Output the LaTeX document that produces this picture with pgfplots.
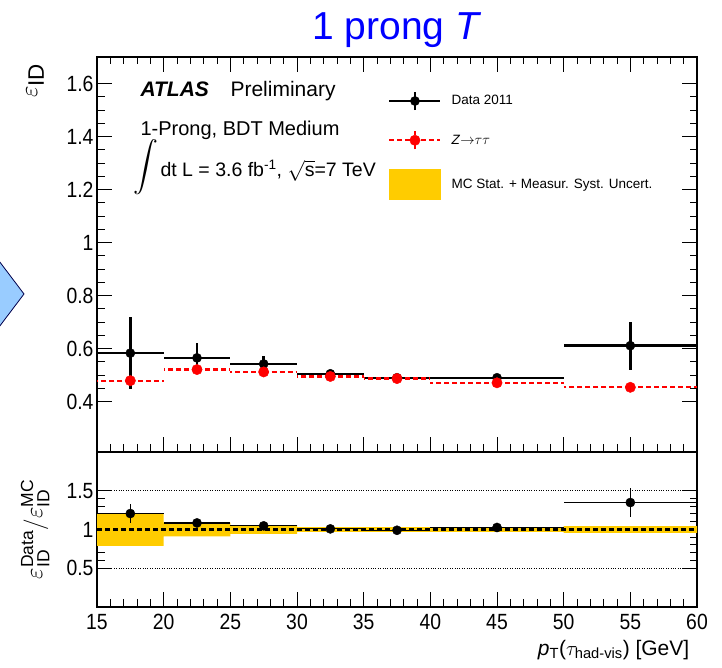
\documentclass[border=0pt]{standalone}
\usepackage{fontspec}
\setmainfont{Liberation Sans}
\setsansfont{Liberation Sans}
\newfontfamily\narrowsans{Liberation Sans}[FakeStretch=0.88]
\usepackage{amsmath}
\usepackage{pgfplots}
\pgfplotsset{compat=1.18}
\definecolor{bandyellow}{RGB}{255,204,0}
\definecolor{arrowblue}{RGB}{153,204,255}

\pgfplotsset{
  atlas/.style={
    scale only axis, width=600pt,
    xmin=15, xmax=60,
    xtick={15,20,25,30,35,40,45,50,55,60}, minor x tick num=4,
    tick align=inside,
    major tick length=15pt, minor tick length=7.5pt,
    tick style={black, line width=1pt},
    axis line style={line width=1.6pt},
    /pgf/number format/assume math mode=true,
    tick label style={font=\narrowsans\fontsize{22}{24}\selectfont},
    xticklabel style={yshift=-4pt},
  },
}

\begin{document}
\begin{tikzpicture}
\useasboundingbox (0,0) rectangle (722pt,668pt);

% piece of the slide arrow on the left
\filldraw[fill=arrowblue, draw=black!70!blue, line width=0.8pt]
  (-10pt,419pt) -- (24pt,374pt) -- (-10pt,329pt);

% ---- upper panel: efficiency
\begin{axis}[atlas,
    at={(97pt,216pt)}, anchor=south west, height=395pt,
    ymin=0.21, ymax=1.7,
    ytick={0.4,0.6,0.8,1,1.2,1.4,1.6}, minor y tick num=3,
    xtick pos=both, ytick pos=both,
    xticklabels={},
    ylabel={$\varepsilon_{\text{ID}}$},
    every axis y label/.style={at={(axis description cs:-0.103,0.992)},
      rotate=90, anchor=east, font=\fontsize{32}{34}\selectfont},
    legend style={at={(axis description cs:0.485,0.915)}, anchor=north west,
      draw=none, fill=none, inner sep=0pt, row sep=19pt,
      font=\fontsize{13.5}{16}\selectfont,
      /tikz/every odd column/.append style={column sep=8pt}},
    legend cell align=left,
]
\addplot[black, only marks, mark=*, mark size=4.6pt,
    legend image code/.code={
      \draw[black, line width=2.5pt] (0pt,0pt) -- (51pt,0pt);
      \draw[black, line width=2.5pt] (25.5pt,-9pt) -- (25.5pt,9pt);
      \fill[black] (25.5pt,0pt) circle (4.6pt);},
    error bars/.cd, x dir=both, x explicit, y dir=both, y explicit,
    error mark=none, error bar style={line width=2.5pt}]
  table[x=x, y=y, x error=ex, y error=ey] {
x    y     ex  ey
17.5 0.583 2.5 0.135
22.5 0.565 2.5 0.055
27.5 0.542 2.5 0.030
32.5 0.505 2.5 0.012
37.5 0.490 2.5 0.010
45   0.490 5   0.012
55   0.611 5   0.090
};
\addlegendentry{Data 2011}
\addplot[red, only marks, mark=*, mark size=5.2pt,
    legend image code/.code={
      \draw[red, line width=2pt, dash pattern=on 5pt off 3pt] (0pt,0pt) -- (51pt,0pt);
      \draw[red, line width=2pt, dash pattern=on 4pt off 3pt] (25.5pt,-9pt) -- (25.5pt,9pt);
      \fill[red] (25.5pt,0pt) circle (5.2pt);},
    error bars/.cd, x dir=both, x explicit,
    error mark=none, error bar style={red, line width=2.2pt, dash pattern=on 5pt off 3pt}]
  table[x=x, y=y, x error=ex] {
x    y     ex
17.5 0.479 2.5
22.5 0.521 2.5
27.5 0.512 2.5
32.5 0.495 2.5
37.5 0.487 2.5
45   0.471 5
55   0.454 5
};
\addlegendentry{\textit{Z}$\rightarrow$$\tau\tau$}
\addlegendimage{legend image code/.code={
  \fill[bandyellow] (0pt,-15pt) rectangle (51pt,15pt);}}
\addlegendentry{MC Stat. + Measur. Syst. Uncert.}
\end{axis}

% ---- lower panel: ratio
\begin{axis}[atlas,
    at={(97pt,61pt)}, anchor=south west, height=155pt,
    ymin=0, ymax=2,
    ytick={0.5,1,1.5}, minor y tick num=4,
    xtick pos=bottom, ytick pos=both,
    ymajorgrids, major grid style={black, dotted, line width=0.9pt},
    ylabel={$\varepsilon^{\text{Data}}_{\text{ID}}/\varepsilon^{\text{MC}}_{\text{ID}}$},
    every axis y label/.style={at={(axis description cs:-0.103,0.5)},
      rotate=90, anchor=center, font=\fontsize{25}{27}\selectfont},
    xlabel={\textit{p}$_{\text{T}}$($\tau_{\text{had-vis}}$) [GeV]},
    every axis x label/.style={at={(axis description cs:0.993,-0.31)},
      anchor=base east, font=\fontsize{21}{24}\selectfont},
]
\addplot[fill=bandyellow, draw=none] coordinates {
  (15,1.21) (20,1.21) (20,1.09) (25,1.09) (25,1.055) (30,1.055)
  (30,1.03) (35,1.03) (35,1.03) (40,1.03) (40,1.03) (50,1.03)
  (50,1.045) (60,1.045)
  (60,0.955) (50,0.955) (50,0.97) (40,0.97) (40,0.97) (35,0.97)
  (35,0.97) (30,0.97) (30,0.945) (25,0.945) (25,0.91) (20,0.91)
  (20,0.79) (15,0.79)
};
\addplot[black, line width=2.2pt, dash pattern=on 5pt off 3pt]
  coordinates {(15,1) (60,1)};
\addplot[black, only marks, mark=*, mark size=4.6pt,
    error bars/.cd, x dir=both, x explicit, y dir=both, y explicit,
    error mark=none, error bar style={line width=1.2pt}]
  table[x=x, y=y, x error=ex, y error=ey] {
x    y     ex  ey
17.5 1.206 2.5 0.125
22.5 1.085 2.5 0.030
27.5 1.047 2.5 0.020
32.5 1.008 2.5 0.010
37.5 0.990 2.5 0.010
45   1.026 5   0.010
55   1.348 5   0.190
};
\end{axis}

% title and labels of the slide
\node[anchor=base, text=blue, font=\fontsize{39}{42}\selectfont]
  at (397pt,628pt) {1 prong \textit{T}};
\node[anchor=base west, font=\fontsize{21}{23}\selectfont\bfseries\itshape]
  at (137pt,571pt) {ATLAS};
\node[anchor=base west, font=\fontsize{21}{23}\selectfont]
  at (227pt,571pt) {Preliminary};
\node[anchor=base west, font=\fontsize{20}{22}\selectfont]
  at (137pt,532pt) {1-Prong, BDT Medium};
\node[anchor=center, font=\fontsize{24}{26}\selectfont]
  at (146pt,501pt) {$\displaystyle\int$};
\node[anchor=base west, font=\fontsize{19.5}{22}\selectfont]
  at (157pt,491pt) {dt L = 3.6 fb$^{\text{-1}}$, $\sqrt{\text{s}}$=7 TeV};
\end{tikzpicture}
\end{document}
